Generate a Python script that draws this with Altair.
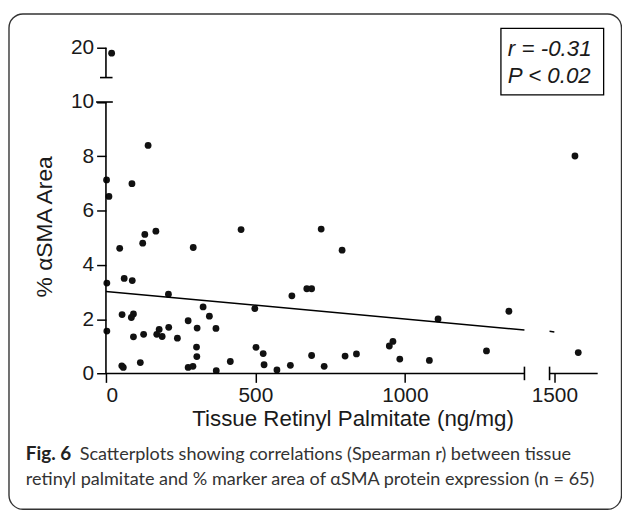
import altair as alt
import pandas as pd

# ---- data ----
x_vals = [19, 141, 2, 87, 10, 167, 130, 123, 46, 61,
          88, 3, 209, 54, 92, 85, 275, 3, 210, 178,
          92, 126, 170, 188, 239, 53, 58, 115, 275, 452,
          292, 498, 325, 346, 305, 368, 303, 304, 291, 369,
          416, 502, 526, 529, 572, 720, 790, 672, 688, 622,
          617, 688, 730, 800, 838, 1111, 960, 948, 983, 1082,
          1348, 1273, 1580, 1569]
y_vals = [19.8, 8.40, 7.13, 6.99, 6.52, 5.24, 5.12, 4.80, 4.61, 3.50,
          3.42, 3.33, 2.92, 2.17, 2.19, 2.06, 1.94, 1.56, 1.70, 1.62,
          1.35, 1.44, 1.44, 1.36, 1.30, 0.28, 0.22, 0.40, 0.22, 5.30,
          4.64, 2.39, 2.45, 2.11, 1.67, 1.66, 0.97, 0.62, 0.26, 0.10,
          0.44, 0.96, 0.73, 0.32, 0.13, 5.32, 4.54, 3.12, 3.12, 2.86,
          0.30, 0.66, 0.26, 0.64, 0.72, 2.01, 1.18, 1.01, 0.53, 0.48,
          2.29, 0.83, 0.77, 8.01]

# regression line pieces (x start, x end, y start, y end)
reg_x = [0, 1484]
reg_x2 = [1400, 1500]
reg_y = [3.02, 1.55]
reg_y2 = [1.60, 1.53]

x_ticks = [0, 500, 1000, 1500]
y_ticks = [0, 2, 4, 6, 8, 10, 12]   # 12 is the "20" of the upper segment
y_break_shift = 8.0                 # values above 10 drawn 8 units lower

x_title = "Tissue Retinyl Palmitate (ng/mg)"
y_title = "% \u03b1SMA Area"
stat_lines = ["r = -0.31", "P < 0.02"]
caption_bold = "Fig. 6"
caption_1 = "Scatterplots showing correlations (Spearman r) between tissue"
caption_2 = "retinyl palmitate and % marker area of \u03b1SMA protein expression (n = 65)"

FONT = "Liberation Sans"
CAP_FONT = "Lato"
INK = "#1a1a1a"

pts = pd.DataFrame({"x": x_vals, "y": y_vals})
reg = pd.DataFrame({"x": reg_x, "x2": reg_x2, "y": reg_y, "y2": reg_y2})
# broken axis lines and break caps
axis_segs = pd.DataFrame({
    "x":  [0, 0, 0, 1484, -33, -20, 1400, 1484],
    "x2": [0, 0, 1400, 1645, 23, 22, 1400, 1484],
    "y":  [0, 10.9, 0, 0, 10, 10.9, -0.25, -0.25],
    "y2": [10, 12, 0, 0, 10, 10.9, 0.25, 0.25],
})
one = pd.DataFrame({"a": [0]})

xs = alt.Scale(domain=[0, 1650], nice=False, zero=False)
ys = alt.Scale(domain=[0, 12], nice=False, zero=False)

x_axis = alt.Axis(
    values=x_ticks, format="d", domain=False, grid=False, tickSize=9, tickWidth=1.5,
    tickColor="black", labelFont=FONT, labelFontSize=21, labelColor=INK,
    labelPadding=2, title=x_title, titleFont=FONT, titleFontSize=22.5,
    titleFontWeight="normal", titleColor=INK, titleBaseline="alphabetic",
    titleY=52)
y_axis = alt.Axis(
    values=y_ticks, domain=False, grid=False, tickSize=9.4, tickWidth=1.5,
    tickColor="black", labelFont=FONT, labelFontSize=21, labelColor=INK,
    labelPadding=3, labelExpr="datum.value == 12 ? '20' : datum.label",
    title=y_title, titleFont=FONT, titleFontSize=23, titleFontWeight="normal",
    titleColor=INK, titleAngle=-90, titleBaseline="alphabetic",
    titleX=-55, titleY=180, titleAlign="center")

W, H = 497, 328.2

points = alt.Chart(pts).transform_calculate(
    yp=f"datum.y > 10 ? datum.y - {y_break_shift} : datum.y"
).mark_circle(size=47, color="#111111", opacity=1).encode(
    x=alt.X("x:Q", scale=xs, axis=x_axis),
    y=alt.Y("yp:Q", scale=ys, axis=y_axis),
)

reg_line = alt.Chart(reg).mark_rule(color="black", strokeWidth=1.5).encode(
    x=alt.X("x:Q", scale=xs, axis=x_axis), x2="x2:Q",
    y=alt.Y("y:Q", scale=ys, axis=y_axis), y2="y2:Q")

axes = alt.Chart(axis_segs).mark_rule(color="black", strokeWidth=1.6).encode(
    x=alt.X("x:Q", scale=xs, axis=x_axis), x2="x2:Q",
    y=alt.Y("y:Q", scale=ys, axis=y_axis), y2="y2:Q")

box = alt.Chart(one).mark_rect(fillOpacity=0, stroke="black", strokeWidth=1.3).encode(
    x=alt.value(398), x2=alt.value(501.5), y=alt.value(-19.5), y2=alt.value(47.5))

stat1 = alt.Chart(one).mark_text(align="left", baseline="alphabetic", font=FONT,
                                 fontStyle="italic", fontSize=22.5, color=INK).encode(
    x=alt.value(405), y=alt.value(8.5), text=alt.value(stat_lines[0]))
stat2 = alt.Chart(one).mark_text(align="left", baseline="alphabetic", font=FONT,
                                 fontStyle="italic", fontSize=22.5, color=INK).encode(
    x=alt.value(405), y=alt.value(36), text=alt.value(stat_lines[1]))

frame = alt.Chart(one).mark_rect(fillOpacity=0, stroke="#333333", strokeWidth=1.4,
                                 cornerRadius=14).encode(
    x=alt.value(-97.7), x2=alt.value(519.5), y=alt.value(-34), y2=alt.value(465))

cap_a = alt.Chart(one).mark_text(align="left", baseline="alphabetic", font=CAP_FONT,
                                 fontWeight="bold", fontSize=19, color="#222222").encode(
    x=alt.value(-80.7), y=alt.value(415), text=alt.value(caption_bold))
cap_b = alt.Chart(one).mark_text(align="left", baseline="alphabetic", font=CAP_FONT,
                                 fontSize=18.2, color="#333333").encode(
    x=alt.value(-26.5), y=alt.value(415), text=alt.value(caption_1))
cap_c = alt.Chart(one).mark_text(align="left", baseline="alphabetic", font=CAP_FONT,
                                 fontSize=18.2, color="#333333").encode(
    x=alt.value(-80.7), y=alt.value(441), text=alt.value(caption_2))

chart = alt.layer(points, reg_line, axes, box, stat1, stat2, frame, cap_a, cap_b, cap_c).properties(
    width=W, height=H,
    padding={"left": 98.7, "top": 38.1, "right": 23, "bottom": 138},
    autosize=alt.AutoSizeParams(type="none"),
).configure_view(stroke=None)

chart.save("out.html", embed_options={"renderer": "svg", "actions": False})
